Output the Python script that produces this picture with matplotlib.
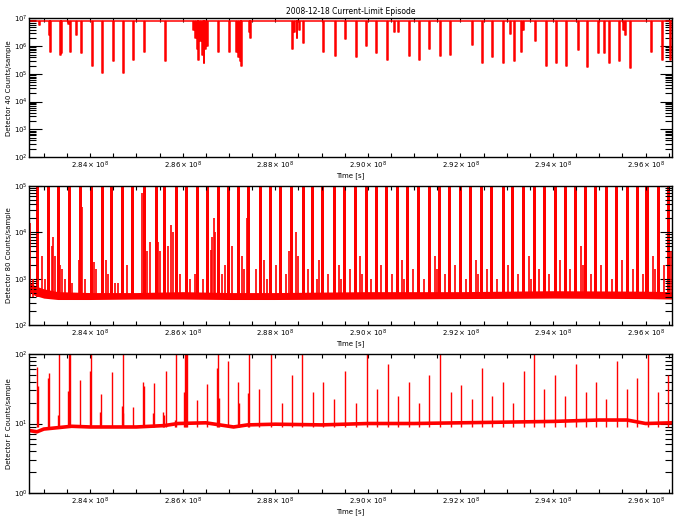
import numpy as np
import matplotlib
matplotlib.use("Agg")
from matplotlib import pyplot as plt
from matplotlib.ticker import LogLocator, FixedLocator, MultipleLocator, FuncFormatter, NullFormatter

# all times are in units of 1e6 s
t_start = 282.68
t_end = 296.57
label_ticks = [284, 286, 288, 290, 292, 294, 296]

# Detector 40: saturated level with dropouts (log10 counts/sample)
sat_40 = 6.9
dip_t_40 = [282.898, 283.115, 283.136, 283.352, 283.374, 283.525, 283.568, 283.698, 283.806,
            284.043, 284.259, 284.497, 284.713, 284.929, 285.166, 285.620,
            286.225, 286.27, 286.31, 286.35, 286.38, 286.42, 286.46, 286.50, 286.53,
            286.765, 287.002, 287.16, 287.20, 287.24, 287.28, 287.434, 287.456,
            288.38, 288.42, 288.47, 288.52, 288.60, 289.05, 289.31, 289.52, 289.76, 289.98,
            290.19, 290.43, 290.58, 290.67, 290.89, 291.11, 291.34, 291.56, 291.79,
            292.27, 292.48, 292.70, 292.94, 293.09, 293.16, 293.31, 293.37, 293.63,
            293.85, 294.08, 294.30, 294.56, 294.75, 294.98, 295.11, 295.22, 295.43,
            295.52, 295.56, 295.67, 296.12, 296.36, 296.53]
dip_log_40 = [6.75, 6.4, 5.78, 5.7, 5.75, 6.8, 5.8, 6.4, 5.75,
              5.3, 5.05, 5.45, 5.05, 5.5, 5.8, 5.45,
              6.6, 6.3, 5.9, 5.5, 6.2, 5.7, 5.4, 5.9, 6.0,
              5.8, 5.8, 5.8, 5.6, 5.45, 5.3, 6.5, 6.3,
              5.9, 6.5, 6.3, 6.6, 6.1, 5.8, 5.65, 6.25, 5.6, 6.0,
              5.75, 5.5, 6.5, 6.5, 5.65, 5.5, 5.9, 5.65, 5.7,
              6.05, 5.4, 5.6, 5.4, 6.45, 5.45, 5.8, 6.6, 6.2,
              5.3, 5.4, 5.3, 5.85, 5.25, 5.75, 5.75, 5.4, 5.45,
              6.6, 6.4, 5.2, 5.8, 5.5, 5.5]

# Detector 80: baseline band, saturated bursts and smaller spikes
band_t_80 = [282.68, 282.80, 283.00, 283.30, 284.0, 285.0, 286.0, 287.0, 288.0,
             290.0, 292.0, 294.0, 296.0, 296.57]
band_lo_80 = [2.72, 2.64, 2.58, 2.55, 2.55, 2.56, 2.56, 2.55, 2.55, 2.56, 2.57, 2.58, 2.57, 2.56]
band_hi_80 = [2.95, 2.85, 2.78, 2.72, 2.70, 2.70, 2.72, 2.70, 2.70, 2.72, 2.72, 2.74, 2.73, 2.72]
burst_t_80 = [282.855, 283.093, 283.309, 283.546, 283.784, 284.022, 284.259, 284.454, 284.691,
              284.907, 285.166, 285.426, 285.598, 285.858, 286.074, 286.311, 286.527, 286.765,
              286.981, 287.197, 287.413, 287.69, 287.90, 288.12, 288.36, 288.60, 288.81,
              289.03, 289.27, 289.50, 289.74, 289.96, 290.19, 290.41, 290.63, 290.86, 291.10,
              291.33, 291.55, 291.77, 292.01, 292.22, 292.46, 292.68, 292.92, 293.13, 293.37,
              293.59, 293.81, 294.05, 294.26, 294.49, 294.71, 294.92, 295.15, 295.37, 295.60,
              295.82, 296.03, 296.27, 296.49]
spike_t_80 = [282.70, 282.77, 282.88, 282.96, 283.03, 283.18, 283.20, 283.24, 283.35, 283.40,
              283.46, 283.61, 283.76, 283.83, 283.89, 284.09, 284.13, 284.35, 284.39, 284.54,
              284.60, 284.80, 285.12, 285.23, 285.30, 285.47, 285.51, 285.68, 285.75, 285.79,
              285.94, 286.16, 286.27, 286.44, 286.61, 286.64, 286.68, 286.70, 286.85, 286.92,
              287.07, 287.28, 287.33, 287.39,
              287.58, 287.75, 287.82, 288.01, 288.23, 288.29, 288.44, 288.49, 288.70, 288.90,
              288.94, 289.14, 289.37, 289.42, 289.61, 289.83, 289.87, 290.06, 290.28, 290.52,
              290.73, 290.78, 290.97, 291.21, 291.45, 291.49, 291.66, 291.88, 292.12, 292.33,
              292.38, 292.57, 292.79, 293.02, 293.24, 293.48, 293.52, 293.69, 293.91, 294.15,
              294.36, 294.60, 294.64, 294.82, 295.03, 295.27, 295.49, 295.72, 295.94, 296.16,
              296.20, 296.39, 296.54]
spike_log_80 = [4.2, 3.0, 3.2, 3.5, 3.0, 3.7, 3.9, 3.5, 3.3, 3.2,
                3.0, 2.9, 3.4, 4.55, 3.0, 3.37, 3.2, 3.4, 3.1, 2.9,
                2.9, 3.3, 4.85, 3.6, 3.8, 3.8, 3.6, 3.7, 4.16, 4.0,
                3.1, 3.0, 3.1, 3.0, 3.62, 3.9, 4.3, 4.0, 3.1, 3.3,
                3.7, 3.5, 3.2, 4.3,
                3.2, 3.4, 3.0, 3.3, 3.1, 3.6, 4.0, 3.5, 3.2, 3.0,
                3.4, 3.1, 3.3, 3.0, 3.2, 3.5, 3.1, 3.0, 3.3, 3.1,
                3.4, 3.0, 3.2, 3.0, 3.5, 3.2, 3.1, 3.3, 3.0, 3.4,
                3.1, 3.2, 3.0, 3.3, 3.1, 3.5, 3.0, 3.2, 3.1, 3.4,
                3.2, 3.7, 3.3, 3.1, 3.3, 3.0, 3.4, 3.2, 3.1, 3.5,
                3.2, 3.3, 3.6]

# Detector F: baseline and spikes
base_t_f = [282.68, 282.85, 283.0, 283.3, 283.6, 284.0, 285.0, 285.6, 285.9, 286.5, 286.9,
            287.1, 287.4, 288.0, 289.0, 290.0, 291.0, 292.0, 293.0, 294.0, 295.0, 295.6,
            296.0, 296.57]
base_log_f = [0.90, 0.88, 0.92, 0.94, 0.96, 0.95, 0.95, 0.97, 1.00, 1.01, 0.97,
              0.95, 0.98, 0.99, 0.98, 1.00, 1.00, 1.01, 1.02, 1.03, 1.05, 1.05,
              1.00, 1.01]
spike_t_f = [282.85, 282.88, 283.09, 283.11, 283.31, 283.33, 283.53, 283.55, 283.57, 283.78,
             284.00, 284.02, 284.22, 284.24, 284.48, 284.69, 284.70, 284.71, 284.93, 285.15,
             285.17, 285.36, 285.38, 285.58, 285.60, 285.64, 285.84, 285.86, 286.03, 286.05,
             286.07, 286.09, 286.31, 286.53, 286.74, 286.76, 286.78, 286.98, 287.20, 287.22,
             287.41, 287.43,
             287.65, 287.90, 288.14, 288.36, 288.57, 288.81, 289.03, 289.27, 289.50, 289.74,
             289.98, 290.19, 290.43, 290.65, 290.89, 291.10, 291.33, 291.56, 291.79, 292.01,
             292.25, 292.46, 292.68, 292.92, 293.13, 293.37, 293.59, 293.81, 294.05, 294.26,
             294.49, 294.71, 294.92, 295.15, 295.39, 295.60, 295.82, 296.05, 296.27, 296.49]
spike_log_f = [1.81, 1.54, 1.65, 1.73, 1.12, 2.0, 1.47, 2.0, 2.0, 1.63,
               1.75, 2.0, 1.17, 1.42, 1.74, 1.25, 2.0, 1.15, 1.24, 1.6,
               1.54, 1.15, 1.58, 1.17, 1.12, 1.75, 1.05, 2.0, 1.45, 2.0,
               2.0, 2.0, 1.34, 1.57, 1.8, 2.0, 1.36, 1.9, 1.6, 1.3,
               1.44, 2.0,
               1.5, 2.0, 1.3, 1.7, 2.0, 1.45, 1.6, 1.35, 1.75, 1.3,
               2.0, 1.5, 1.85, 1.4, 1.6, 1.3, 1.7, 2.0, 1.45, 1.55,
               1.35, 1.8, 1.4, 1.6, 1.3, 1.75, 2.0, 1.5, 1.7, 1.4,
               1.85, 1.45, 1.6, 1.35, 1.9, 1.5, 1.65, 2.0, 1.45, 1.7]

RED = "#ff0000"
FS = 5

fig = plt.figure(figsize=(6.83, 5.18), dpi=100)
W = 643 / 683
ax1 = fig.add_axes([29 / 683, 1 - 157 / 518, W, 138.5 / 518])
ax2 = fig.add_axes([29 / 683, 1 - 325 / 518, W, 139 / 518])
ax3 = fig.add_axes([29 / 683, 1 - 493 / 518, W, 139 / 518])

# panel 1: build the dropout trace
xs = [t_start]
ys = [sat_40]
w = 0.010
for t, d in sorted(zip(dip_t_40, dip_log_40)):
    xs += [t - w, t - w, t + w, t + w]
    ys += [sat_40, d, d, sat_40]
xs.append(t_end)
ys.append(sat_40)
ax1.plot(np.array(xs) * 1e6, 10 ** np.array(ys), color=RED, lw=1.1)
ax1.set_ylim(1e2, 1e7)

# panel 2
ax2.set_yscale("log")
ax2.fill_between(np.array(band_t_80) * 1e6, 10 ** np.array(band_lo_80), 10 ** np.array(band_hi_80),
                 color=RED, lw=0)
ax2.vlines(np.array(spike_t_80) * 1e6, 10 ** 2.6, 10 ** np.array(spike_log_80), color=RED, lw=1.2)
ax2.bar(np.array(burst_t_80) * 1e6, 1e5 - 10 ** 2.6, bottom=10 ** 2.6, width=0.065e6,
        color=RED, lw=0)
ax2.set_ylim(1e2, 1e5)

# panel 3
ax3.set_yscale("log")
ax3.vlines(np.array(spike_t_f) * 1e6, 10 ** 0.95, 10 ** np.array(spike_log_f), color=RED, lw=1.0)
ax3.plot(np.array(base_t_f) * 1e6, 10 ** np.array(base_log_f), color=RED, lw=2.6)
ax3.set_ylim(1e0, 1e2)

ylabels = ["Detector 40 Counts/sample", "Detector 80 Counts/sample", "Detector F Counts/sample"]
for ax, yl in zip([ax1, ax2, ax3], ylabels):
    ax.set_yscale("log")
    ax.set_xlim(t_start * 1e6, t_end * 1e6)
    ax.xaxis.set_major_locator(FixedLocator([v * 1e6 for v in label_ticks]))
    ax.xaxis.set_minor_locator(MultipleLocator(0.5e6))
    ax.xaxis.set_major_formatter(FuncFormatter(lambda v, p: r"$%.2f\times10^{8}$" % (v / 1e8)))
    ax.yaxis.set_major_locator(LogLocator(base=10))
    ax.yaxis.set_minor_locator(LogLocator(base=10, subs=np.arange(2, 10)))
    ax.yaxis.set_minor_formatter(NullFormatter())
    ax.tick_params(axis="x", which="both", direction="in", top=True, bottom=True,
                   length=3, width=0.8, labelsize=FS, pad=2)
    ax.tick_params(axis="y", which="major", direction="in", left=True, right=True,
                   length=9, width=0.8, labelsize=FS, pad=1)
    ax.tick_params(axis="y", which="minor", direction="in", left=True, right=True,
                   length=5, width=0.8)
    for s in ax.spines.values():
        s.set_linewidth(1.0)
    ax.set_xlabel("Time [s]", fontsize=FS, labelpad=0.5)
    ax.set_ylabel(yl, fontsize=FS, labelpad=2)
    ax.yaxis.set_label_coords(-0.026, 0.5)

fig.text(351 / 683, 1 - 12 / 518, "2008-12-18 Current-Limit Episode", fontsize=5.5,
         ha="center", va="center")

plt.savefig("out.png", dpi=100)
